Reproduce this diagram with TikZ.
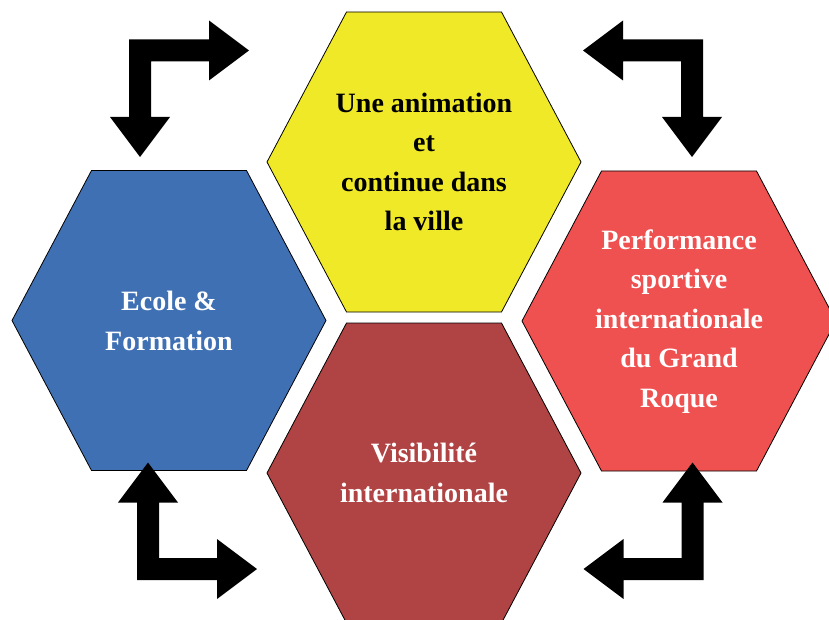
\documentclass[tikz,border=0pt]{standalone}
\usepackage{fontspec}
\setmainfont{Liberation Serif}
\usepackage{xcolor}
\definecolor{hexyellow}{RGB}{240,233,40}
\definecolor{hexblue}{RGB}{64,112,180}
\definecolor{hexred}{RGB}{239,80,80}
\definecolor{hexdark}{RGB}{176,67,67}
\tikzset{
    hexlbl/.style={align=center, font=\fontsize{28}{39.5}\selectfont\bfseries},
    bent/.pic={\fill (-11,-11) -- (69,-11) -- (69,-30) -- (109,0) -- (69,30) -- (69,11) -- (11,11)
        -- (11,66.5) -- (30,66.5) -- (0,106.5) -- (-30,66.5) -- (-11,66.5) -- cycle;}
}
\begin{document}
\begin{tikzpicture}[x=1pt, y=-1pt]
    \useasboundingbox (0,0) rectangle (829,620);

    \foreach \cx/\cy/\col in {424/162/hexyellow, 169/320.5/hexblue, 679/321/hexred, 424/473/hexdark}
        \filldraw[fill=\col, line width=0.8pt] (\cx,\cy) ++(-77.5,-150) -- ++(155,0) -- ++(79.5,150)
            -- ++(-79.5,150) -- ++(-155,0) -- ++(-79.5,-150) -- cycle;

    \node[hexlbl] (anim) at (424,162) {Une animation\\et\\continue dans\\la ville};
    \node[hexlbl, white] (ecole) at (169,321) {Ecole \&\\Formation};
    \node[hexlbl, white] (perf) at (679,321.5) {Performance\\sportive\\internationale\\du Grand\\Roque};
    \node[hexlbl, white] (visi) at (424,473) {Visibilit\'e\\internationale};

    % fleches
    \pic at (140,50.5) {bent};
    \pic[xscale=-1] at (692,50.5) {bent};
    \pic[yscale=-1] at (148,569) {bent};
    \pic[xscale=-1, yscale=-1] at (692.5,569) {bent};
\end{tikzpicture}
\end{document}
